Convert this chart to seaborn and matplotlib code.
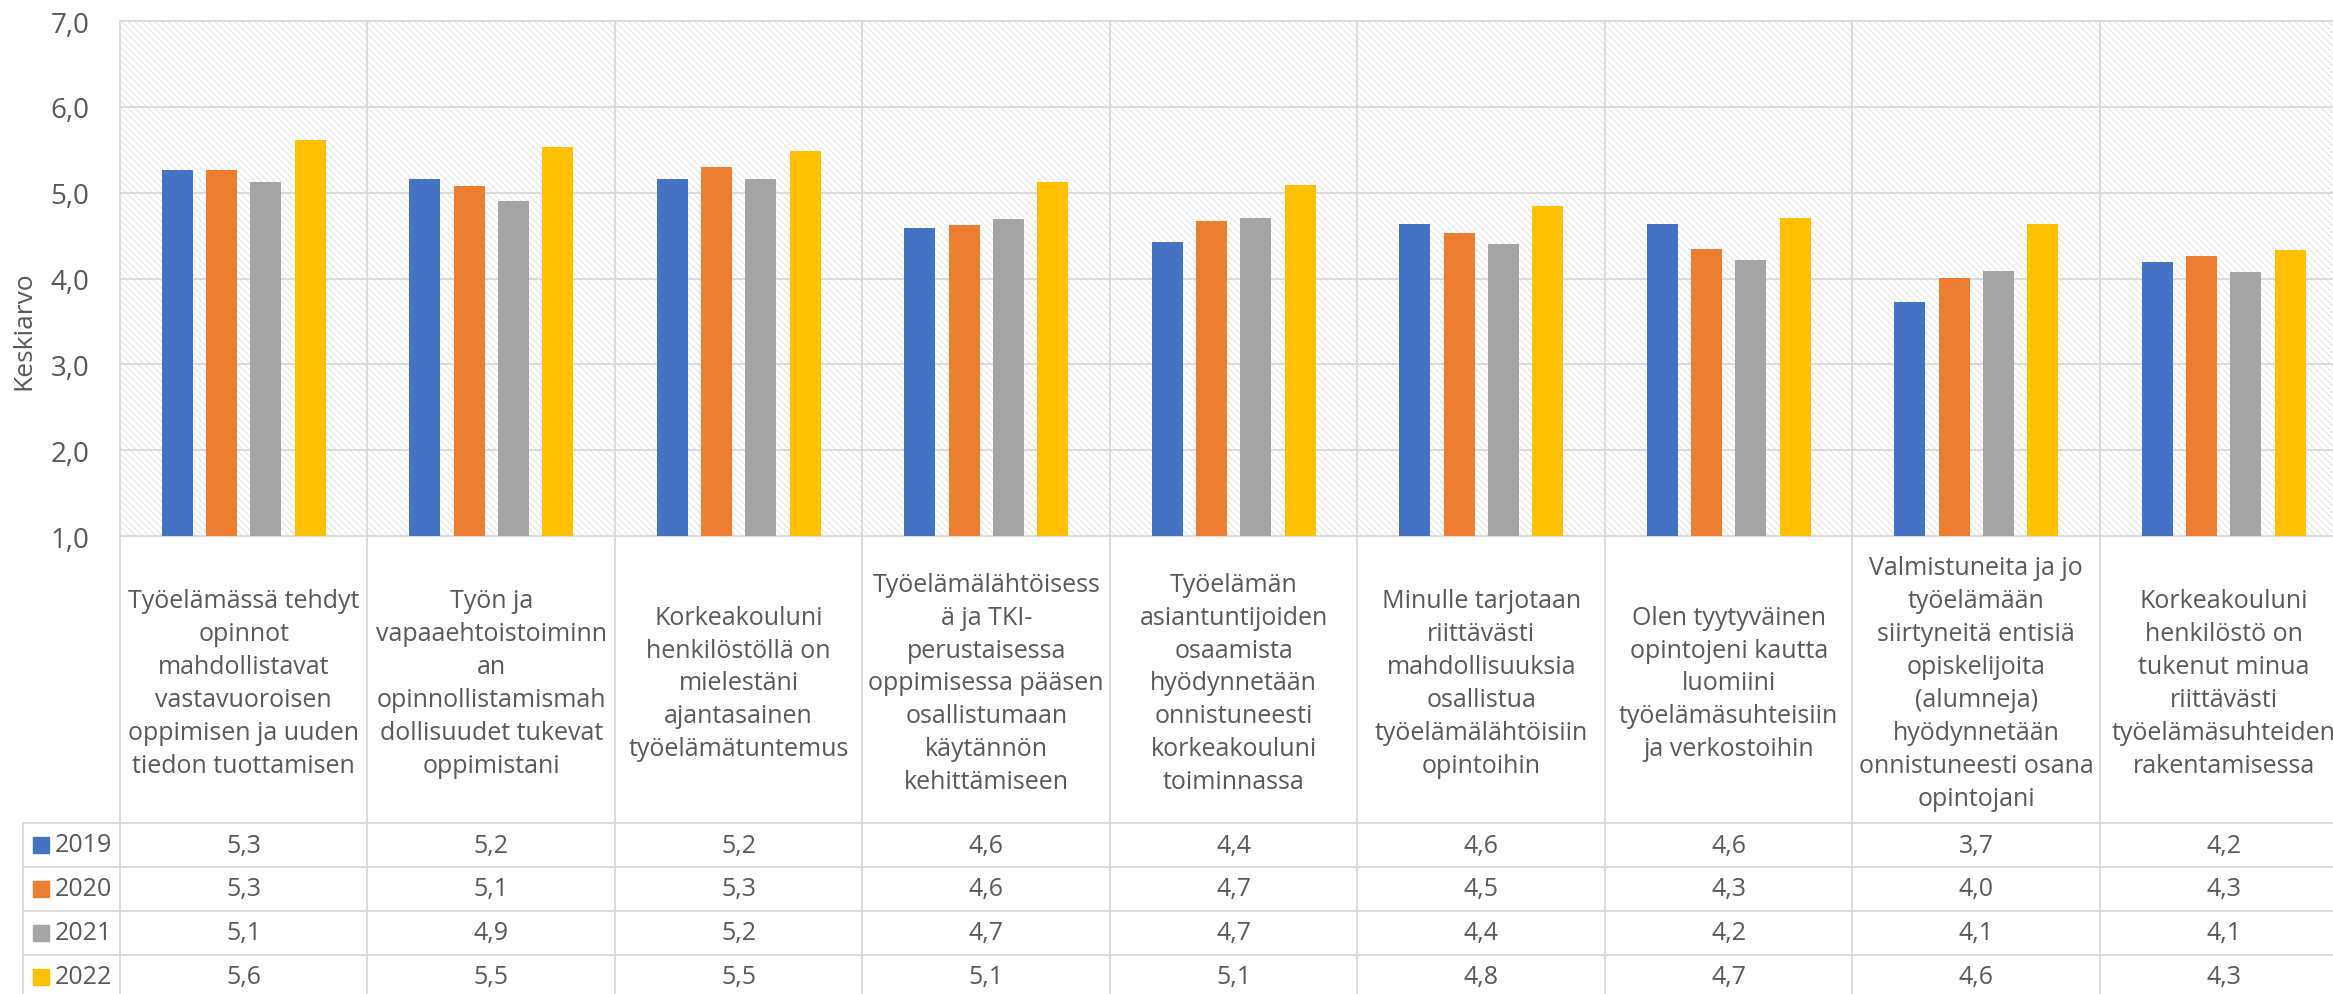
import matplotlib
matplotlib.use('Agg')
import matplotlib.pyplot as plt
from matplotlib.patches import Rectangle
from matplotlib.lines import Line2D
from matplotlib import transforms
import seaborn as sns
import pandas as pd

# data
kategoriat = [
    "Työelämässä tehdyt\nopinnot\nmahdollistavat\nvastavuoroisen\noppimisen ja uuden\ntiedon tuottamisen",
    "Työn ja\nvapaaehtoistoiminn\nan\nopinnollistamismah\ndollisuudet tukevat\noppimistani",
    "Korkeakouluni\nhenkilöstöllä on\nmielestäni\najantasainen\ntyöelämätuntemus",
    "Työelämälähtöisess\nä ja TKI-\nperustaisessa\noppimisessa pääsen\nosallistumaan\nkäytännön\nkehittämiseen",
    "Työelämän\nasiantuntijoiden\nosaamista\nhyödynnetään\nonnistuneesti\nkorkeakouluni\ntoiminnassa",
    "Minulle tarjotaan\nriittävästi\nmahdollisuuksia\nosallistua\ntyöelämälähtöisiin\nopintoihin",
    "Olen tyytyväinen\nopintojeni kautta\nluomiini\ntyöelämäsuhteisiin\nja verkostoihin",
    "Valmistuneita ja jo\ntyöelämään\nsiirtyneitä entisiä\nopiskelijoita\n(alumneja)\nhyödynnetään\nonnistuneesti osana\nopintojani",
    "Korkeakouluni\nhenkilöstö on\ntukenut minua\nriittävästi\ntyöelämäsuhteiden\nrakentamisessa",
]
vuodet = ['2019', '2020', '2021', '2022']
arvot_2019 = [5.26, 5.16, 5.16, 4.59, 4.43, 4.64, 4.64, 3.73, 4.19]
arvot_2020 = [5.26, 5.08, 5.30, 4.62, 4.67, 4.53, 4.34, 4.01, 4.26]
arvot_2021 = [5.12, 4.90, 5.16, 4.69, 4.71, 4.40, 4.22, 4.09, 4.08]
arvot_2022 = [5.61, 5.53, 5.49, 5.12, 5.09, 4.84, 4.71, 4.64, 4.33]
varit = ['#4472C4', '#ED7D31', '#A5A5A5', '#FFC000']
y_ticks = [1, 2, 3, 4, 5, 6, 7]

sarjat = [arvot_2019, arvot_2020, arvot_2021, arvot_2022]

rows = []
for v, sarja in zip(vuodet, sarjat):
    for k, a in zip(kategoriat, sarja):
        rows.append({'kategoria': k, 'vuosi': v, 'keskiarvo': a})
df = pd.DataFrame(rows)

sns.set_theme(style="white")
plt.rcParams['font.family'] = ['Open Sans', 'DejaVu Sans']
plt.rcParams['hatch.linewidth'] = 0.6

W, H = 2333, 995
GRID = '#d9d9d9'
TXT = '#595959'
FS = 18

# layout in pixels (Excel-like plot area + data table)
left, top, bottom = 120, 22, 537
col_w = 247.5
row_top = 824
row_h = 44


def fx(x):
    return x / W


def fy(y):
    return 1 - y / H


fig = plt.figure(figsize=(W / 100, H / 100), dpi=100)
ax = fig.add_axes([fx(left), fy(bottom), 9 * col_w / W, (bottom - top) / H])
ax.set_facecolor('white')

# hatched background of plot area
ax.add_patch(Rectangle((0, 0), 1, 1, transform=ax.transAxes, facecolor='white',
                       edgecolor='#dedede', hatch='\\\\\\\\\\', linewidth=0, zorder=0))

sns.barplot(data=df, x='kategoria', y='keskiarvo', hue='vuosi', order=kategoriat,
            hue_order=vuodet, palette=dict(zip(vuodet, varit)), saturation=1,
            width=0.716, gap=0.3, linewidth=0, legend=False, ax=ax, zorder=2)

ax.set_xlim(-0.5, len(kategoriat) - 0.5)
ax.set_ylim(1, 7)
ax.set_yticks(y_ticks)
ax.set_yticklabels([f"{t:.1f}".replace('.', ',') for t in y_ticks], color=TXT, fontsize=20)
ax.tick_params(axis='y', length=0, pad=22)
ax.set_xticks([])
ax.set_xlabel('')
ax.set_ylabel('')
for s in ax.spines.values():
    s.set_visible(False)

# horizontal gridlines
for t in y_ticks:
    ax.add_line(Line2D([-0.5, len(kategoriat) - 0.5], [t, t], color=GRID, lw=1.3,
                       zorder=1, clip_on=False))

fig.text(fx(24), fy(331), 'Keskiarvo', rotation=90, ha='center', va='center',
         color=TXT, fontsize=19)

# table below the chart
tr = transforms.blended_transform_factory(ax.transData, fig.transFigure)
for k in range(len(kategoriat) + 1):
    xb = k - 0.5
    ax.add_line(Line2D([xb, xb], [fy(top), fy(H + 5)], transform=tr, color=GRID,
                       lw=1.3, clip_on=False, zorder=1))

for r in range(len(vuodet) + 1):
    yy = fy(row_top + r * row_h)
    fig.add_artist(Line2D([fx(23), 1.0], [yy, yy], color=GRID, lw=1.3))
fig.add_artist(Line2D([fx(23), fx(23)], [fy(row_top), 0], color=GRID, lw=1.3))

# category labels
for i, k in enumerate(kategoriat):
    ax.text(i, fy(684), k, transform=tr, ha='center', va='center',
            multialignment='center', linespacing=1.42, color=TXT, fontsize=FS)

# values and legend keys
for r, (v, sarja, c) in enumerate(zip(vuodet, sarjat, varit)):
    yc = row_top + r * row_h + row_h / 2
    fig.add_artist(Rectangle((fx(33), fy(yc + 8)), 16 / W, 16 / H, color=c,
                             transform=fig.transFigure))
    fig.text(fx(55), fy(yc), v, ha='left', va='center', color=TXT, fontsize=FS)
    for i, a in enumerate(sarja):
        ax.text(i, fy(yc), f"{a:.1f}".replace('.', ','), transform=tr,
                ha='center', va='center', color=TXT, fontsize=FS)

fig.savefig('out.png', dpi=100)
